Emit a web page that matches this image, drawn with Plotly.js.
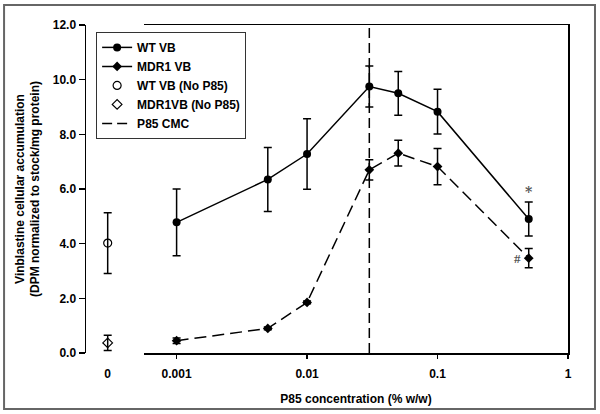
<!DOCTYPE html>
<html>
<head>
<meta charset="utf-8">
<script src="https://cdn.plot.ly/plotly-3.0.1.min.js"></script>
<style>html,body{margin:0;padding:0;background:#fff;}#chart{width:600px;height:414px;}</style>
</head>
<body>
<div id="chart"></div>
<script>
// P85 concentrations (% w/w)
const conc = [0.001, 0.005, 0.01, 0.03, 0.05, 0.1, 0.5];
const wtVB = [4.78, 6.35, 7.28, 9.75, 9.50, 8.83, 4.90];
const wtErr = [1.22, 1.17, 1.29, 0.75, 0.80, 0.82, 0.62];
const mdrVB = [0.45, 0.90, 1.85, 6.70, 7.31, 6.82, 3.47];
const mdrErr = [0.10, 0.05, 0.05, 0.37, 0.47, 0.66, 0.35];
// No P85 controls
const noP85X = [0];
const wtNoP85 = [4.02];
const wtNoP85Err = [1.11];
const mdrNoP85 = [0.37];
const mdrNoP85Err = [0.28];
// CMC
const cmc = 0.03;
const cmcY = [0, 12];
const xTickVals = [0.001, 0.01, 0.1, 1];
const xTickText = ['0.001', '0.01', '0.1', '1'];
const yTickVals = [0, 2, 4, 6, 8, 10, 12];

const F = 'Arial, "Liberation Sans", sans-serif';
const bold = {family: F, size: 12, color: '#000', weight: 'bold'};
const errStyle = (arr) => ({type: 'data', array: arr, visible: true, color: '#000', thickness: 1.5, width: 4});

const traces = [
  {x: conc, y: wtVB, name: 'WT VB', type: 'scatter', mode: 'lines+markers',
   xaxis: 'x2', yaxis: 'y2',
   line: {color: '#000', width: 1.5}, marker: {symbol: 'circle', size: 8, color: '#000'},
   error_y: errStyle(wtErr)},
  {x: conc, y: mdrVB, name: 'MDR1 VB', type: 'scatter', mode: 'lines+markers',
   xaxis: 'x2', yaxis: 'y2',
   line: {color: '#000', width: 1.5, dash: '12px,6px'}, marker: {symbol: 'diamond', size: 7.5, color: '#000'},
   error_y: errStyle(mdrErr)},
  {x: noP85X, y: wtNoP85, name: 'WT VB (No P85)', type: 'scatter', mode: 'markers',
   xaxis: 'x', yaxis: 'y',
   marker: {symbol: 'circle-open', size: 8, color: '#000', line: {width: 1.2, color: '#000'}},
   error_y: errStyle(wtNoP85Err)},
  {x: noP85X, y: mdrNoP85, name: 'MDR1VB (No P85)', type: 'scatter', mode: 'markers',
   xaxis: 'x', yaxis: 'y',
   marker: {symbol: 'diamond-open', size: 7.5, color: '#000', line: {width: 1.2, color: '#000'}},
   error_y: errStyle(mdrNoP85Err)},
  {x: [cmc, cmc], y: cmcY, name: 'P85 CMC', type: 'scatter', mode: 'lines',
   xaxis: 'x2', yaxis: 'y2',
   line: {color: '#000', width: 1.5, dash: '10px,5px'}}
];

const layout = {
  width: 600, height: 414,
  margin: {l: 86, r: 32, t: 25, b: 61},
  paper_bgcolor: '#fff', plot_bgcolor: '#fff',
  font: bold,
  showlegend: true,
  legend: {x: 0.021, y: 0.979, xanchor: 'left', yanchor: 'top',
           bordercolor: '#333', borderwidth: 1, bgcolor: '#fff', font: bold,
           tracegroupgap: 0},
  xaxis: {domain: [0, 0.09], range: [-1, 1], tickvals: [0], ticktext: ['0'],
          showline: false, zeroline: false, showgrid: false, ticks: '', tickfont: bold, anchor: 'y',
          ticklabelstandoff: 12},
  xaxis2: {domain: [0.1203, 1], type: 'log', range: [-3.25, 0], tickvals: xTickVals, ticktext: xTickText,
           showline: true, mirror: true, linecolor: '#000', linewidth: 1.5,
           ticks: 'outside', ticklen: 4, tickwidth: 1.5, tickcolor: '#000',
           zeroline: false, showgrid: false, tickfont: bold, anchor: 'y2', ticklabelstandoff: 5,
           title: {text: 'P85 concentration (% w/w)', font: bold, standoff: 14}},
  yaxis: {range: [0, 12], tickvals: yTickVals, tickformat: '.1f',
          showline: true, linecolor: '#000', linewidth: 1.5,
          ticks: 'outside', ticklen: 6, tickwidth: 1.5, tickcolor: '#000',
          zeroline: false, showgrid: false, tickfont: bold, anchor: 'x',
          title: {text: 'Vinblastine cellular accumulation<br>(DPM normalized to stock/mg protein)', font: bold, standoff: 10}},
  yaxis2: {range: [0, 12], overlaying: 'y', anchor: 'x2', side: 'right',
           showline: true, linecolor: '#000', linewidth: 1.5, ticks: '', showticklabels: false,
           zeroline: false, showgrid: false},
  annotations: [
    {x: Math.log10(conc[6]), y: wtVB[6] + wtErr[6], xref: 'x2', yref: 'y2', text: '*', showarrow: false,
     yanchor: 'bottom', yshift: 0, font: {family: '"DejaVu Serif", "Liberation Serif", serif', size: 14, color: '#555'}},
    {x: Math.log10(conc[6]), y: mdrVB[6], xref: 'x2', yref: 'y2', text: '#', showarrow: false,
     xanchor: 'right', xshift: -6, font: {family: '"Liberation Serif", serif', size: 13, color: '#555'}}
  ],
  shapes: [
    {type: 'rect', xref: 'paper', yref: 'paper', x0: -0.170, x1: 1.056, y0: -0.171, y1: 1.061,
     line: {color: '#666', width: 2}, fillcolor: 'rgba(0,0,0,0)', layer: 'below'}
  ]
};

Plotly.newPlot('chart', traces, layout, {displayModeBar: false, staticPlot: true});
</script>
</body>
</html>
